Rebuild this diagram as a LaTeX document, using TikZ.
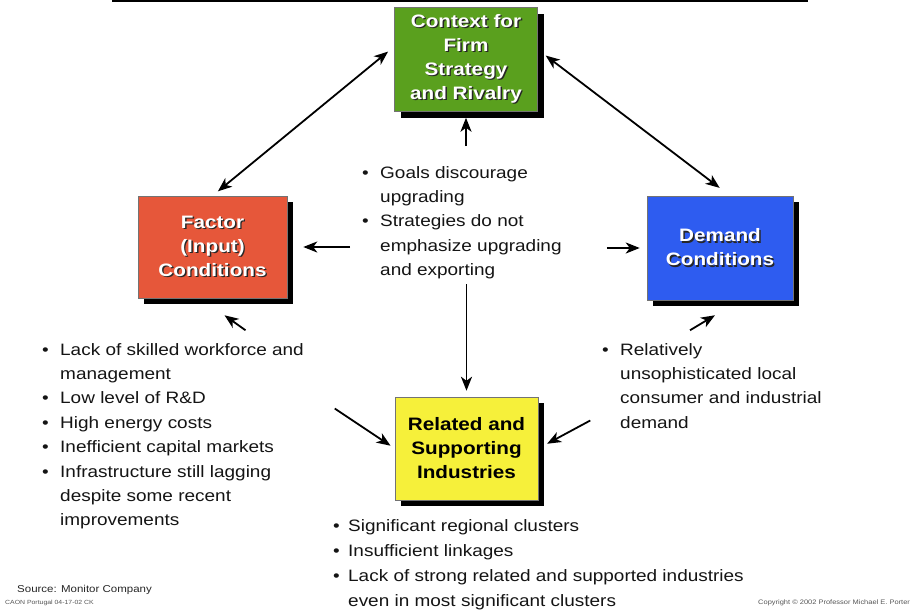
\documentclass[tikz,border=0pt]{standalone}
\usepackage{fontspec}
\setmainfont{Liberation Sans}[FakeStretch=1.15]
\usepackage{tikz}
\usetikzlibrary{arrows.meta,positioning,calc,shadows}
\definecolor{strategy}{HTML}{5AA01E}
\definecolor{factor}{HTML}{E6573A}
\definecolor{demand}{HTML}{2E5CF0}
\definecolor{related}{HTML}{F6F03A}
\definecolor{footnote}{HTML}{555555}

% bullet and hanging indent for the issue lists
\newcommand{\bul}{\makebox[18pt][l]{\textbullet}}
\newcommand{\ind}{\hspace*{18pt}}
% white box label with a dark offset copy behind it
\newcommand{\shadowed}[1]{\makebox[0pt][l]{\kern1.4pt\raisebox{-1.4pt}{\textcolor{black!85}{#1}}}#1}

\begin{document}
\begin{tikzpicture}[
      x=1pt,y=-1pt,
      >={Stealth[length=14pt,width=11pt,inset=4pt]},
      force/.style={draw=black!55,line width=0.5pt,minimum width=143pt,minimum height=104pt,
                    align=center,inner sep=2pt,font=\fontsize{18}{24}\selectfont\bfseries,
                    drop shadow={shadow xshift=6pt,shadow yshift=-6pt,fill=black,opacity=1}},
      issues/.style={align=left,inner sep=0pt,anchor=north west,text=black!92,
                     font=\fontsize{16.5}{24.4}\selectfont},
      link/.style={->,line width=1.8pt}
    ]
    \useasboundingbox (0,0) rectangle (916,614);
    \draw[line width=2pt] (112,1) -- (808,1);

    % the four corners of the diamond
    \node[force,fill=strategy,text=white] (ctx) at (466,59.5)
      {\shadowed{Context for}\\\shadowed{Firm}\\\shadowed{Strategy}\\\shadowed{and Rivalry}};
    \node[force,fill=factor,text=white,minimum width=149pt,minimum height=102pt] (fac) at (212.5,247)
      {\shadowed{Factor}\\\shadowed{(Input)}\\\shadowed{Conditions}};
    \node[force,fill=demand,text=white,minimum width=146pt] (dem) at (720,248)
      {\shadowed{Demand}\\\shadowed{Conditions}};
    \node[force,fill=related,text=black,minimum height=103pt] (rel) at (466.5,448.5)
      {Related and\\Supporting\\Industries};

    % issues attached to each corner
    \node[issues] (ctxnote) at (362,166)
      {\bul Goals discourage\\\ind upgrading\\\bul Strategies do not\\\ind emphasize upgrading\\\ind and exporting};
    \node[issues] (facnote) at (42,343)
      {\bul Lack of skilled workforce and\\\ind management\\\bul Low level of R\&D\\\bul High energy costs\\
       \bul Inefficient capital markets\\\bul Infrastructure still lagging\\\ind despite some recent\\\ind improvements};
    \node[issues] (demnote) at (602,343)
      {\bul Relatively\\\ind unsophisticated local\\\ind consumer and industrial\\\ind demand};
    \node[issues,font=\fontsize{16.5}{25}\selectfont] (relnote) at (333,519)
      {\makebox[15pt][l]{\textbullet}Significant regional clusters\\
       \makebox[15pt][l]{\textbullet}Insufficient linkages\\
       \makebox[15pt][l]{\textbullet}Lack of strong related and supported industries\\
       \hspace*{15pt}even in most significant clusters};

    % links between the corners
    \draw[link,<->,shorten <=8pt,shorten >=7pt] ([yshift=13pt]ctx.west) -- (fac.north);
    \draw[link,<->,shorten <=10pt,shorten >=13pt] ([yshift=10pt]ctx.east) -- ([xshift=10pt]dem.north);
    \draw[link,shorten <=20pt,shorten >=6pt] (ctx.south |- ctxnote.north) -- (ctx.south);
    \draw[link,shorten >=6pt] ([yshift=-5pt]ctxnote.south -| rel.north) -- (rel.north);
    \draw[link,shorten >=16pt] ([xshift=-12pt]ctxnote.west |- fac.east) -- (fac.east);
    \draw[link,shorten >=7pt] ([xshift=45pt]ctxnote.east |- dem.west) -- (dem.west);
    \draw[link] ([shift={(33,32)}]fac.south) -- ([shift={(12,17)}]fac.south);
    \draw[link] ([shift={(-30,30)}]dem.south) -- ([shift={(-5,15)}]dem.south);
    \draw[link,shorten >=5pt] ([shift={(-60,-40)}]rel.west) -- (rel.west);
    \draw[link,shorten >=10pt] ([shift={(52,-28)}]rel.east) -- (rel.east);

    % footer
    \node[anchor=west,inner sep=0pt,font=\fontsize{10}{12}\selectfont,text=black!85] (src) at (17,590)
      {Source: Monitor Company};
    \node[anchor=west,inner sep=0pt,font=\fontsize{6}{7}\selectfont,text=footnote] (code) at (5,603)
      {CAON Portugal 04-17-02 CK};
    \node[anchor=west,inner sep=0pt,font=\fontsize{6.5}{7}\selectfont,text=footnote] (copy) at (758,603)
      {Copyright © 2002 Professor Michael E. Porter};
  \end{tikzpicture}
\end{document}
